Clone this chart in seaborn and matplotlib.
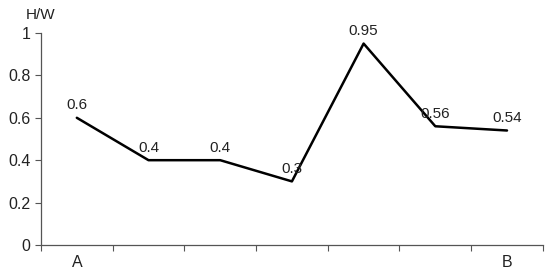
import matplotlib
matplotlib.use("Agg")
import matplotlib.pyplot as plt
import seaborn as sns
import pandas as pd

# values
positions = [0, 1, 2, 3, 4, 5, 6]
hw_values = [0.6, 0.4, 0.4, 0.3, 0.95, 0.56, 0.54]
value_labels = ["0.6", "0.4", "0.4", "0.3", "0.95", "0.56", "0.54"]
end_labels = ["A", "B"]
y_ticks = [0, 0.2, 0.4, 0.6, 0.8, 1.0]
y_tick_labels = ["0", "0.2", "0.4", "0.6", "0.8", "1"]

df = pd.DataFrame({"pos": positions, "hw": hw_values})

sns.set_style("ticks")
plt.rcParams["font.family"] = ["Liberation Sans", "DejaVu Sans"]

fig = plt.figure(figsize=(5.5, 2.77), dpi=100)
ax = fig.add_axes([0.0745, 0.1155, 0.9125, 0.7655])

sns.lineplot(data=df, x="pos", y="hw", color="black", linewidth=1.8, ax=ax)

for x, y, lab in zip(positions, hw_values, value_labels):
    ax.annotate(lab, (x, y), xytext=(0, 4), textcoords="offset points",
                ha="center", va="bottom", fontsize=11, color="#222222")

ax.set_xlim(-0.5, 6.5)
ax.set_ylim(0, 1)
ax.set_yticks(y_ticks)
ax.set_yticklabels(y_tick_labels, fontsize=11.5, color="#222222")
# tick marks sit on the category boundaries
ax.set_xticks([p - 0.5 for p in positions] + [6.5])
ax.set_xticklabels([])
ax.set_xticks([positions[0], positions[-1]], minor=True)
ax.set_xticklabels(end_labels, minor=True, fontsize=11.5, color="#222222")
ax.tick_params(axis="x", which="minor", length=0, pad=7)
ax.tick_params(axis="both", which="major", length=4, width=0.8,
               color="#555555")
ax.set_xlabel("")
ax.set_ylabel("")
sns.despine(ax=ax)
for s in ["left", "bottom"]:
    ax.spines[s].set_color("#555555")
    ax.spines[s].set_linewidth(0.9)

fig.text(41 / 550, 1 - 15 / 277, "H/W", ha="center", va="center",
         fontsize=11, color="#222222")

fig.savefig("out.png", dpi=100)
